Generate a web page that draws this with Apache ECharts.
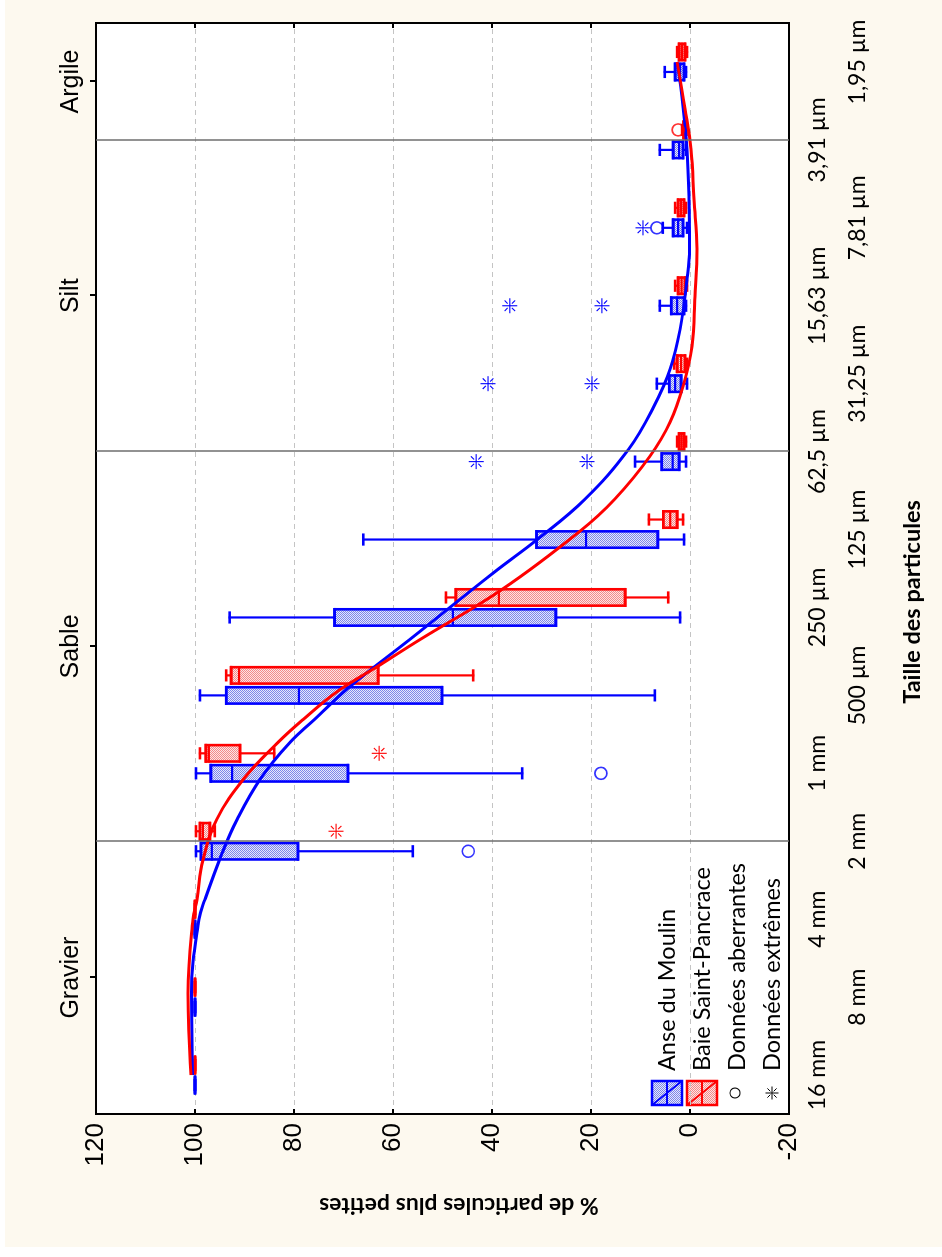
<!DOCTYPE html>
<html>
<head>
<meta charset="utf-8">
<script src="https://cdn.jsdelivr.net/npm/echarts@6/dist/echarts.min.js"></script>
<style>
  html, body { margin: 0; padding: 0; background: #ffffff; width: 942px; height: 1257px; overflow: hidden; }
  #paper { position: absolute; left: 5px; top: 0; width: 937px; height: 1247px; background: #fdf9ef; }
  /* the figure is laid out landscape and turned a quarter turn anticlockwise */
  #chart { position: absolute; left: 0; top: 0; width: 1257px; height: 942px;
           transform-origin: 0 0; transform: translate(0, 1257px) rotate(-90deg); }
</style>
</head>
<body>
<div id="paper"></div>
<div id="chart"></div>
<script>
// particle size classes, coarse to fine
const sizeLabels = ['16 mm', '8 mm', '4 mm', '2 mm', '1 mm', '500 µm', '250 µm', '125 µm',
                    '62,5 µm', '31,25 µm', '15,63 µm', '7,81 µm', '3,91 µm', '1,95 µm'];

// sediment classes along the top axis, and the class limits (2 mm, 62,5 µm, 3,91 µm)
const classNames = ['Gravier', 'Sable', 'Silt', 'Argile'];
const classCenters = [1.25, 5.5, 10, 12.75];
const classBounds = [3, 8, 12];

// Anse du Moulin : % finer, box statistics per size class
const anseMin = [100, 100, 100, 56.0, 33.9, 7.1, 2.0, 1.2, 0.8, 0.6, 0.8, 0.6, 0.8, 0.8];
const anseQ1  = [100, 100, 100, 79.2, 69.1, 50.1, 27.1, 6.5, 2.2, 1.8, 1.2, 1.4, 1.4, 1.2];
const anseMed = [100, 100, 100, 96.6, 92.5, 79.0, 47.9, 21.0, 3.5, 3.0, 2.6, 2.4, 2.2, 2.0];
const anseQ3  = [100, 100, 100, 98.8, 96.8, 93.7, 71.8, 31.0, 5.7, 4.2, 3.8, 3.4, 3.4, 3.0];
const anseMax = [100, 100, 100, 99.8, 99.8, 99.0, 93.0, 66.0, 11.1, 6.7, 6.1, 5.5, 6.1, 5.1];

// Baie Saint-Pancrace
const baieMin = [100, 100, 100, 96.0, 84.0, 43.8, 4.4, 1.4, 0.8, 0.6, 0.6, 0.8, 0.7, 0.6];
const baieQ1  = [100, 100, 100, 97.0, 90.9, 63.0, 13.1, 2.6, 1.2, 1.0, 1.0, 1.2, 0.9, 1.0];
const baieMed = [100, 100, 100, 98.4, 97.2, 91.1, 38.6, 4.0, 1.7, 1.8, 1.7, 1.8, 1.1, 1.6];
const baieQ3  = [100, 100, 100, 99.0, 97.8, 92.7, 47.3, 5.4, 2.2, 2.6, 2.4, 2.4, 1.3, 2.2];
const baieMax = [100, 100, 100, 99.8, 99.0, 93.7, 49.3, 8.3, 2.6, 3.2, 3.0, 3.0, 1.6, 2.6];

// outliers [size class index, %]
const anseOutliers = [[3, 44.8], [4, 18.0], [11, 6.7]];
const baieOutliers = [[12, 2.4]];
// extreme values
const anseExtremes = [[8, 43.2], [8, 20.8], [9, 40.8], [9, 19.8], [10, 36.4], [10, 17.8], [11, 9.5]];
const baieExtremes = [[3, 71.5], [4, 62.8]];

// fitted cumulative curves [position along size axis, %]
const anseCurve = [[0, 100.5], [1.05, 100.7], [2.0, 99.2], [2.25, 98.0], [2.85, 94.5], [3.28, 91.5],
  [3.79, 86.9], [4.27, 80.8], [4.56, 75.9], [4.97, 69.0], [5.59, 56.6], [6.46, 39.4], [6.87, 30.9],
  [7.39, 21.2], [8.03, 12.4], [8.58, 7.3], [9.06, 4.0], [9.57, 2.0], [10.21, 0.6],
  [10.6, 0.1], [11.24, 0.2], [11.88, 0.6], [12.43, 1.4], [13.0, 2.6]];
const baieCurve = [[0, 100.8], [1.05, 101.4], [2.0, 100.4], [2.25, 99.6], [2.76, 98.4], [3.28, 95.6],
  [3.79, 90.3], [4.27, 83.2], [4.56, 78.2], [4.92, 71.3], [5.24, 63.2], [5.59, 54.5], [6.23, 38.0],
  [6.98, 22.2], [7.39, 15.2], [7.94, 8.1], [8.38, 4.0], [8.84, 1.4], [9.35, -0.4],
  [9.99, -1.0], [10.6, -1.4], [11.24, -0.8], [11.88, -0.2], [12.4, 1.0], [13.0, 2.6]];

const BLUE = '#0000ff';
const RED = '#ff0000';

function makePattern(dot, base) {
  const cv = document.createElement('canvas');
  cv.width = 2; cv.height = 2;
  const g = cv.getContext('2d');
  g.fillStyle = base; g.fillRect(0, 0, 2, 2);
  g.fillStyle = dot; g.fillRect(0, 0, 1, 1); g.fillRect(1, 1, 1, 1);
  return { image: cv, repeat: 'repeat' };
}
const blueFill = makePattern('#7d86ea', '#e6e8fb');
const redFill = makePattern('#f28a8a', '#fde4e4');

function boxRows(mn, q1, md, q3, mx) {
  return mn.map((v, i) => [i, v, q1[i], md[i], q3[i], mx[i]]);
}

// box + whiskers, shifted sideways by dx pixels inside the size band
function boxRenderer(color, fill, dx) {
  return function (params, api) {
    const k = api.value(0);
    const pt = v => api.coord([k, v]);
    const lo = pt(api.value(1)), q1 = pt(api.value(2)), md = pt(api.value(3));
    const q3 = pt(api.value(4)), hi = pt(api.value(5));
    const x = lo[0] + dx;
    const hw = 8.2, cw = 4.8;
    const seg = (x1, y1, x2, y2, w) => ({
      type: 'line', shape: { x1, y1, x2, y2 }, style: { stroke: color, lineWidth: w, lineCap: 'square' }
    });
    return {
      type: 'group',
      children: [
        seg(x, hi[1], x, q3[1], 2.2),
        seg(x, q1[1], x, lo[1], 2.2),
        seg(x - cw, hi[1], x + cw, hi[1], 2.6),
        seg(x - cw, lo[1], x + cw, lo[1], 2.6),
        { type: 'rect', shape: { x: x - hw, y: q3[1], width: 2 * hw, height: q1[1] - q3[1] },
          style: { fill: fill, stroke: color, lineWidth: 2.6 } },
        seg(x - hw, q3[1], x + hw, q3[1], 2.6),
        seg(x - hw, q1[1], x + hw, q1[1], 2.6),
        seg(x - hw, md[1], x + hw, md[1], 2.2)
      ]
    };
  };
}

function starShapes(cx, cy, color, r, ri, w) {
  const d = Math.SQRT1_2;
  const s = (x1, y1, x2, y2) => ({ type: 'line', shape: { x1, y1, x2, y2 }, style: { stroke: color, lineWidth: w } });
  return [
    s(cx - r, cy, cx + r, cy),
    s(cx, cy - r, cx, cy + r),
    s(cx + ri * d, cy + ri * d, cx + r * d, cy + r * d),
    s(cx - ri * d, cy - ri * d, cx - r * d, cy - r * d),
    s(cx + ri * d, cy - ri * d, cx + r * d, cy - r * d),
    s(cx - ri * d, cy + ri * d, cx - r * d, cy + r * d)
  ];
}

function starRenderer(color, dx) {
  return function (params, api) {
    const c = api.coord([api.value(0), api.value(1)]);
    return { type: 'group', children: starShapes(c[0] + dx, c[1], color, 7.5, 3, 1.1) };
  };
}

function legendBox(y, color, fill) {
  const x = 152, w = 24, h = 30;
  return [
    { type: 'rect', shape: { x, y, width: w, height: h }, style: { fill, stroke: color, lineWidth: 2.5 } },
    { type: 'line', shape: { x1: x, y1: y + h / 2, x2: x + w, y2: y + h / 2 }, style: { stroke: color, lineWidth: 2 } },
    { type: 'line', shape: { x1: x, y1: y, x2: x + w, y2: y + h }, style: { stroke: color, lineWidth: 2 } }
  ];
}

function legendText(text, y) {
  return { type: 'text', x: 186, y, style: { text, fontFamily: 'Lato', fontSize: 23.5, fill: '#000',
           align: 'left', verticalAlign: 'middle' } };
}

const chart = echarts.init(document.getElementById('chart'));

chart.setOption({
  animation: false,
  grid: { left: 143, right: 23, top: 96, bottom: 153, show: true,
          backgroundColor: '#ffffff', borderColor: '#000', borderWidth: 2 },
  xAxis: [
    {
      type: 'category', data: sizeLabels, position: 'bottom', boundaryGap: true,
      axisLine: { onZero: false, lineStyle: { color: '#000', width: 2 } },
      axisTick: { inside: true, length: 5, alignWithLabel: true, lineStyle: { color: '#000', width: 2 } },
      axisLabel: { interval: 0, margin: 9, fontFamily: 'Lato', fontSize: 23, color: '#000', lineHeight: 40,
                   formatter: (v, i) => (i % 2 ? '\n' + v : v) },
      splitLine: { show: false }
    },
    {
      type: 'value', position: 'top', min: -0.5, max: 13.5,
      axisLine: { show: true, onZero: false, lineStyle: { color: '#000', width: 2 } },
      axisTick: { show: true, customValues: classCenters, length: 6, lineStyle: { color: '#000', width: 2 } },
      axisLabel: { customValues: classCenters, formatter: v => classNames[classCenters.indexOf(v)],
                   fontFamily: 'Liberation Sans', fontSize: 25, color: '#000', margin: 12 },
      splitLine: { show: false }
    }
  ],
  yAxis: [
    {
      type: 'value', min: -20, max: 120, interval: 20, position: 'left',
      axisLine: { show: true, onZero: false, lineStyle: { color: '#000', width: 2 } },
      axisTick: { show: true, inside: true, length: 5, lineStyle: { color: '#000', width: 2 } },
      axisLabel: { fontFamily: 'Liberation Sans', fontSize: 26, color: '#000', margin: 9 },
      splitLine: { show: true, lineStyle: { color: '#c4c4c4', type: [5, 4], width: 1 } }
    },
    {
      type: 'value', min: -20, max: 120, interval: 20, position: 'right',
      axisLine: { show: true, onZero: false, lineStyle: { color: '#000', width: 2 } },
      axisTick: { show: true, inside: true, length: 5, lineStyle: { color: '#000', width: 2 } },
      axisLabel: { show: false },
      splitLine: { show: false }
    }
  ],
  series: [
    {
      name: 'Anse du Moulin', type: 'custom', xAxisIndex: 1, yAxisIndex: 0, z: 2,
      renderItem: boxRenderer(BLUE, blueFill, -10),
      encode: { x: 0, y: [1, 2, 3, 4, 5] },
      data: boxRows(anseMin, anseQ1, anseMed, anseQ3, anseMax)
    },
    {
      name: 'Baie Saint-Pancrace', type: 'custom', xAxisIndex: 1, yAxisIndex: 0, z: 2,
      renderItem: boxRenderer(RED, redFill, 10),
      encode: { x: 0, y: [1, 2, 3, 4, 5] },
      data: boxRows(baieMin, baieQ1, baieMed, baieQ3, baieMax)
    },
    {
      name: 'Anse du Moulin (courbe)', type: 'line', xAxisIndex: 1, yAxisIndex: 0, z: 3,
      data: anseCurve, smooth: 0.4, showSymbol: false, silent: true,
      lineStyle: { color: BLUE, width: 3 },
      markLine: {
        silent: true, symbol: ['none', 'none'], label: { show: false },
        lineStyle: { color: '#6e6e6e', width: 1.5, type: 'solid' },
        data: classBounds.map(k => ({ xAxis: k }))
      }
    },
    {
      name: 'Baie Saint-Pancrace (courbe)', type: 'line', xAxisIndex: 1, yAxisIndex: 0, z: 3,
      data: baieCurve, smooth: 0.4, showSymbol: false, silent: true,
      lineStyle: { color: RED, width: 3 }
    },
    {
      name: 'Données aberrantes', type: 'scatter', xAxisIndex: 1, yAxisIndex: 0, z: 4,
      data: anseOutliers, symbol: 'circle', symbolSize: 12, symbolOffset: [-10, 0],
      itemStyle: { color: 'transparent', borderColor: BLUE, borderWidth: 1.6 }
    },
    {
      name: 'Données aberrantes', type: 'scatter', xAxisIndex: 1, yAxisIndex: 0, z: 4,
      data: baieOutliers, symbol: 'circle', symbolSize: 12, symbolOffset: [10, 0],
      itemStyle: { color: 'transparent', borderColor: RED, borderWidth: 1.6 }
    },
    {
      name: 'Données extrêmes', type: 'custom', xAxisIndex: 1, yAxisIndex: 0, z: 4,
      renderItem: starRenderer(BLUE, -10), encode: { x: 0, y: 1 }, data: anseExtremes
    },
    {
      name: 'Données extrêmes', type: 'custom', xAxisIndex: 1, yAxisIndex: 0, z: 4,
      renderItem: starRenderer(RED, 10), encode: { x: 0, y: 1 }, data: baieExtremes
    }
  ],
  graphic: [
    ...legendBox(652, BLUE, blueFill),
    ...legendBox(687, RED, redFill),
    { type: 'circle', shape: { cx: 164, cy: 735, r: 5 }, style: { fill: 'none', stroke: '#000', lineWidth: 1.1 } },
    { type: 'group', children: starShapes(164, 772, '#000', 6.5, 2.4, 1) },
    legendText('Anse du Moulin', 667),
    legendText('Baie Saint-Pancrace', 702),
    legendText('Données aberrantes', 737),
    legendText('Données extrêmes', 772),
    { type: 'text', x: 655, y: 912,
      style: { text: 'Taille des particules', fontFamily: 'Lato', fontWeight: 'bold', fontSize: 23.5,
               fill: '#000', align: 'center', verticalAlign: 'middle' } },
    { type: 'text', x: 52, y: 459, rotation: Math.PI / 2,
      style: { text: '% de particules plus petites', fontFamily: 'Lato', fontWeight: 'bold', fontSize: 23,
               fill: '#000', align: 'center', verticalAlign: 'middle' } }
  ]
});
</script>
</body>
</html>
